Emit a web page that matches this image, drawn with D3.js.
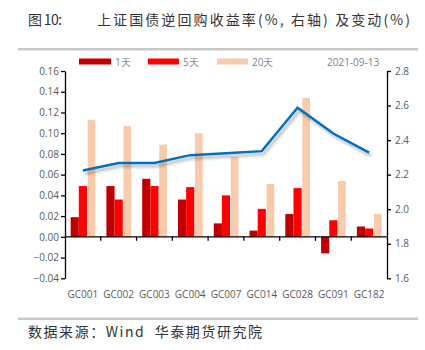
<!DOCTYPE html>
<html><head><meta charset="utf-8">
<script src="https://cdn.jsdelivr.net/npm/d3@7"></script>
<style>body{margin:0;background:#fff;}svg{display:block;}</style>
</head><body>
<script>
const categories = ["GC001","GC002","GC003","GC004","GC007","GC014","GC028","GC091","GC182"];
const seriesNames = ["1天","5天","20天"];
const d1 = [0.019,0.049,0.056,0.036,0.013,0.006,0.022,-0.016,0.010];
const d5 = [0.049,0.036,0.049,0.048,0.040,0.027,0.047,0.016,0.008];
const d20 = [0.113,0.107,0.089,0.100,0.077,0.051,0.134,0.054,0.022];
const lineName = "2021-09-13";
const lineVals = [2.224,2.268,2.268,2.313,2.324,2.336,2.588,2.438,2.328];
const leftTicks = [-0.04,-0.02,0,0.02,0.04,0.06,0.08,0.10,0.12,0.14,0.16];
const rightTicks = [1.6,1.8,2.0,2.2,2.4,2.6,2.8];
const colors = ["#C00000","#FF0000","#F8CBAD"];
const lineColor = "#0070C0";

(function(){
const W=425,H=350;
const svg=d3.select("body").append("svg").attr("width",W).attr("height",H);
const defs=svg.append("defs");
const f=defs.append("filter").attr("id","sh").attr("x","-10%").attr("y","-30%").attr("width","130%").attr("height","180%");
f.append("feDropShadow").attr("dx",2).attr("dy",3).attr("stdDeviation",1.6).attr("flood-color","#000").attr("flood-opacity",0.3);

const tf='"Noto Sans CJK SC", sans-serif';
svg.append("text").attr("x",28).attr("y",25).attr("font-family",tf).attr("font-size",14).attr("fill","#333")
  .attr("textLength",34).attr("lengthAdjust","spacing").text("图\u00a010:");
svg.append("text").attr("x",97).attr("y",25).attr("font-family",tf).attr("font-size",14).attr("fill","#333")
  .attr("textLength",313).attr("lengthAdjust","spacing").text("上证国债逆回购收益率(%, 右轴) 及变动(%)");
svg.append("rect").attr("x",18).attr("y",48).attr("width",400).attr("height",2.5).attr("fill","#C8C8C8");
svg.append("rect").attr("x",18).attr("y",317.5).attr("width",400).attr("height",2.5).attr("fill","#C8C8C8");
svg.append("text").attr("x",28).attr("y",337).attr("font-family",tf).attr("font-size",14).attr("fill","#333")
  .attr("textLength",234).attr("lengthAdjust","spacing").text("数据来源：Wind\u00a0\u00a0华泰期货研究院");

const pl=65,pr=387,pt=71,pb=278.3;
const x0=d3.scaleBand().domain(categories).range([pl,pr]);
const bw=x0.bandwidth();
const groupW=24.5;
const x1=d3.scaleBand().domain(seriesNames).range([0,groupW]);
const y=d3.scaleLinear().domain([-0.04,0.16]).range([pb,pt]);
const y2=d3.scaleLinear().domain([1.6,2.8]).range([pb,pt]);

const lf='"Open Sans", "Liberation Sans", sans-serif';
const ax=svg.append("g").attr("transform",`translate(${pl},0)`)
 .call(d3.axisLeft(y).tickValues(leftTicks).tickFormat(d3.format(".2f")).tickSize(4).tickSizeOuter(0));
ax.select(".domain").attr("stroke","#000").attr("stroke-width",1.3);
ax.selectAll(".tick line").attr("stroke","#000").attr("stroke-width",1.3);
ax.selectAll("text").attr("font-family",lf).attr("font-size",10).attr("fill","#595959").attr("x",-6);
const ar=svg.append("g").attr("transform",`translate(${pr},0)`)
 .call(d3.axisRight(y2).tickValues(rightTicks).tickFormat(d3.format(".1f")).tickSize(4).tickSizeOuter(0));
ar.select(".domain").attr("stroke","#000").attr("stroke-width",1.3);
ar.selectAll(".tick line").attr("stroke","#000").attr("stroke-width",1.3);
ar.selectAll("text").attr("font-family",lf).attr("font-size",10).attr("fill","#595959").attr("x",8);

const data=[d1,d5,d20];
seriesNames.forEach((s,si)=>{
  svg.append("g").selectAll("rect").data(categories).join("rect")
   .attr("x",c=>x0(c)+(bw-groupW)/2+x1(s)+(si==2?0.7:0))
   .attr("width",x1.bandwidth()-(si==2?0.5:0))
   .attr("y",(c,i)=>y(Math.max(0,data[si][i])))
   .attr("height",(c,i)=>Math.abs(y(data[si][i])-y(0)))
   .attr("fill",colors[si]);
});

const xa=svg.append("g");
xa.append("line").attr("x1",pl).attr("x2",pr).attr("y1",y(0)).attr("y2",y(0)).attr("stroke","#000").attr("stroke-width",1.3);
xa.selectAll("line.t").data(categories.slice(1)).join("line").attr("class","t")
 .attr("x1",c=>x0(c)).attr("x2",c=>x0(c)).attr("y1",y(0)).attr("y2",y(0)+4).attr("stroke","#000").attr("stroke-width",1.3);
svg.append("g").selectAll("text").data(categories).join("text")
 .attr("x",c=>x0(c)+bw/2).attr("y",298).attr("text-anchor","middle")
 .attr("font-family",lf).attr("font-size",10).attr("fill","#595959").text(c=>c);

const line=d3.line().x((d,i)=>x0(categories[i])+bw/2).y(d=>y2(d));
svg.append("path").datum(lineVals).attr("d",line).attr("fill","none").attr("stroke",lineColor).attr("stroke-width",2.5).attr("stroke-linejoin","miter").attr("filter","url(#sh)");

const leg=[{x:79,w:32,tx:115,c:colors[0],t:"1天"},{x:148,w:31,tx:183,c:colors[1],t:"5天"},{x:217,w:31,tx:252,c:colors[2],t:"20天"}];
leg.forEach(l=>{
  svg.append("rect").attr("x",l.x).attr("y",58.5).attr("width",l.w).attr("height",6).attr("fill",l.c);
  svg.append("text").attr("x",l.tx).attr("y",65.5).attr("font-family",lf).attr("font-size",10).attr("fill","#7F7F7F").text(l.t);
});
svg.append("line").attr("x1",291).attr("x2",322).attr("y1",62).attr("y2",62).attr("stroke",lineColor).attr("stroke-width",2.5).attr("filter","url(#sh)");
svg.append("text").attr("x",327).attr("y",65.5).attr("font-family",lf).attr("font-size",10).attr("fill","#7F7F7F").text(lineName);
})();
</script>
</body></html>
